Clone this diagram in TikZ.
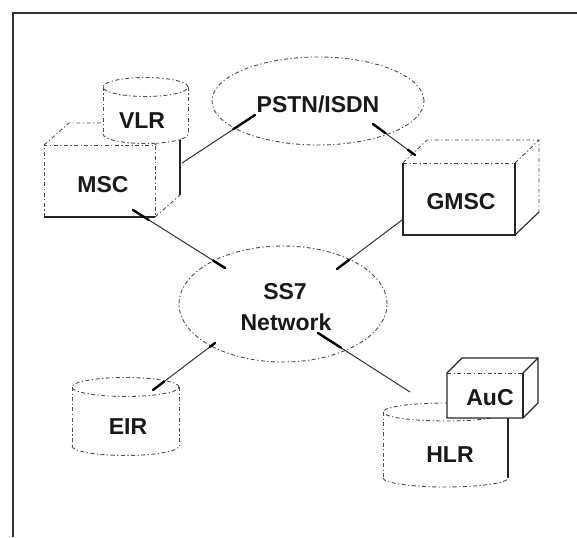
\documentclass[tikz,border=0pt]{standalone}
\usepackage{fontspec}
\setmainfont{Liberation Sans}
\usetikzlibrary{calc,shapes.geometric}
\newcommand{\mycylfill}[5]{%
  \fill[white] (#1,#3) rectangle (#2,#4);
  \fill[white] ({(#1+#2)/2},#3) ellipse [x radius={(#2-#1)/2*1pt}, y radius=#5pt];
  \fill[white] ({(#1+#2)/2},#4) ellipse [x radius={(#2-#1)/2*1pt}, y radius=#5pt];}
\newcommand{\mycyltop}[4]{%
  \draw[outl] ({(#1+#2)/2},#3) ellipse [x radius={(#2-#1)/2*1pt}, y radius=#4pt];}
\newcommand{\mycylbot}[4]{%
  \draw[outl] (#1,#3) .. controls (#1,{#3+0.552*#4}) and ({(#1+#2)/2-0.552*(#2-#1)/2},{#3+#4}) .. ({(#1+#2)/2},{#3+#4})
    .. controls ({(#1+#2)/2+0.552*(#2-#1)/2},{#3+#4}) and (#2,{#3+0.552*#4}) .. (#2,#3);}
\begin{document}
\begin{tikzpicture}[x=1pt,y=-1pt,
  lbl/.style={font=\fontsize{23}{26}\selectfont\bfseries, inner sep=0pt, text=black!90},
  outl/.style={draw=black!70, line width=0.9pt, dash pattern=on 4pt off 2.5pt on 1.2pt off 2.5pt},
  solidl/.style={draw=black!85, line width=1.1pt},
  conn/.style={draw=black!80, line width=1pt},
  stub/.style={draw=black, line width=2.4pt, line cap=round}]
\useasboundingbox (0,0) rectangle (577,537);
\fill[white] (0,0) rectangle (577,537);
% frame
\draw[line width=1.2pt, black!80] (577,13) -- (13,13) -- (13,537);

% PSTN/ISDN and SS7 clouds
\node[ellipse, outl, minimum width=212pt, minimum height=88pt, inner sep=0pt] (pstn) at (318,101) {};
\node[lbl] (pstnT) at (318,104) {PSTN/ISDN};
\node[ellipse, outl, minimum width=208pt, minimum height=116pt, inner sep=0pt] (ss7) at (283,304) {};
\node[lbl] (ss7T) at (285,292) {SS7};
\node[lbl] (netT) at (286,322) {Network};

% MSC box
\fill[white] (44,145) -- (69,123) -- (180,123) -- (180,195) -- (155,217) -- (44,217) -- cycle;
\draw[outl] (44,217) -- (44,145) -- (155,145) -- (155,217);
\draw[outl] (44,145) -- (69,123) -- (180,123);
\draw[outl] (155,145) -- (180,123);
\draw[outl] (155,217) -- (180,195);
\draw[solidl] (44,217) -- (155,217);
\draw[solidl] (180,123) -- (180,195);
\node[lbl] (mscT) at (103,185) {MSC};

% VLR cylinder
\mycylfill{103}{188}{87}{134}{9.5}
\mycyltop{103}{188}{87}{9.5}
\draw[outl] (103,87) -- (103,134);
\draw[outl] (188,87) -- (188,134);
\mycylbot{103}{188}{134}{9.5}
\node[lbl] (vlrT) at (142,121) {VLR};

% GMSC box
\fill[white] (403,163) -- (427,140) -- (539,140) -- (539,212) -- (515,235) -- (403,235) -- cycle;
\draw[outl] (403,163) -- (515,163);
\draw[outl] (403,163) -- (427,140) -- (539,140) -- (539,212);
\draw[outl] (515,163) -- (539,140);
\draw[solidl] (403,163) -- (403,235) -- (515,235) -- (515,163);
\draw[solidl] (515,235) -- (539,212);
\node[lbl] (gmscT) at (461,202) {GMSC};

% EIR cylinder
\mycylfill{72}{179}{387}{446}{9.5}
\mycyltop{72}{179}{387}{9.5}
\draw[outl] (72,387) -- (72,446);
\draw[outl] (179,387) -- (179,446);
\mycylbot{72}{179}{446}{9.5}
\node[lbl] (eirT) at (128,427) {EIR};

% HLR cylinder
\mycylfill{383}{508}{412}{478}{9}
\mycyltop{383}{508}{412}{9}
\draw[outl] (383,412) -- (383,478);
\draw[solidl] (508,412) -- (508,478);
\mycylbot{383}{508}{478}{9}
\node[lbl] (hlrT) at (450,455) {HLR};

% AuC box
\fill[white] (447,373) -- (462,358) -- (538,358) -- (538,403) -- (523,418) -- (447,418) -- cycle;
\draw[outl] (447,373) -- (523,373);
\draw[solidl] (447,373) -- (462,358) -- (538,358) -- (538,403) -- (523,418) -- (447,418) -- cycle;
\draw[solidl] (523,373) -- (538,358);
\draw[solidl] (523,373) -- (523,418);
\node[lbl] (aucT) at (490,398) {AuC};

% connector end points
\coordinate (mscP) at (182,163);
\coordinate (pstnM) at (255,115);
\coordinate (pstnG) at (373,124);
\coordinate (gmscP) at (415,155);
\coordinate (mscS) at (133,210);
\coordinate (ss7M) at (225,268);
\coordinate (gmscS) at (402,220);
\coordinate (ss7G) at (337,269);
\coordinate (ss7E) at (215,343);
\coordinate (eirS) at (153,390);
\coordinate (ss7H) at (318,333);
\coordinate (hlrS) at (410,392);

% connectors
\draw[conn] (mscP) -- (pstnM);
\draw[stub] ($(pstnM)!0.3!(mscP)$) -- (pstnM);
\draw[conn] (pstnG) -- (gmscP);
\draw[stub] (pstnG) -- ($(pstnG)!0.3!(gmscP)$);
\draw[stub] ($(gmscP)!0.17!(pstnG)$) -- (gmscP);
\draw[conn] (mscS) -- (ss7M);
\draw[stub] (mscS) -- ($(mscS)!0.17!(ss7M)$);
\draw[stub] ($(ss7M)!0.13!(mscS)$) -- (ss7M);
\draw[conn] (gmscS) -- (ss7G);
\draw[stub] ($(ss7G)!0.19!(gmscS)$) -- (ss7G);
\draw[conn] (ss7E) -- (eirS);
\draw[stub] (ss7E) -- ($(ss7E)!0.08!(eirS)$);
\draw[stub] ($(eirS)!0.18!(ss7E)$) -- (eirS);
\draw[conn] (ss7H) -- (hlrS);
\draw[stub] (ss7H) -- ($(ss7H)!0.25!(hlrS)$);
\end{tikzpicture}
\end{document}
